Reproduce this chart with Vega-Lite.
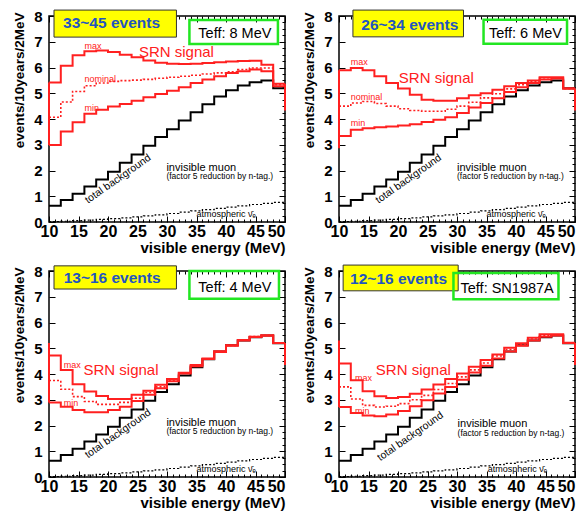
{
  "$schema": "https://vega.github.io/schema/vega-lite/v6.json",
  "padding": {"left": 11, "top": 8, "right": 0, "bottom": 0},
  "background": "white",
  "config": {
    "view": {"stroke": "black", "strokeWidth": 1.5},
    "font": "Liberation Sans",
    "header": {"labels": false, "labelFontSize": 0, "labelPadding": 0, "labelExpr": "''"},
    "headerFacet": {"labels": false, "labelFontSize": 0, "labelPadding": 0, "labelExpr": "''"}
  },
  "datasets": {
    "d": [
      {"k":"b","p":1,"x":10,"bg":0.63,"at":0.02,"mx":5.42,"nm":4.07,"mn":2.99},
      {"k":"b","p":1,"x":12,"bg":0.85,"at":0.03,"mx":6.07,"nm":4.66,"mn":3.51},
      {"k":"b","p":1,"x":14,"bg":1.1,"at":0.05,"mx":6.48,"nm":5.07,"mn":3.87},
      {"k":"b","p":1,"x":16,"bg":1.38,"at":0.07,"mx":6.63,"nm":5.29,"mn":4.2},
      {"k":"b","p":1,"x":18,"bg":1.65,"at":0.1,"mx":6.66,"nm":5.4,"mn":4.36},
      {"k":"b","p":1,"x":20,"bg":1.95,"at":0.13,"mx":6.6,"nm":5.46,"mn":4.49},
      {"k":"b","p":1,"x":22,"bg":2.3,"at":0.16,"mx":6.5,"nm":5.49,"mn":4.58},
      {"k":"b","p":1,"x":24,"bg":2.62,"at":0.2,"mx":6.4,"nm":5.51,"mn":4.71},
      {"k":"b","p":1,"x":26,"bg":2.96,"at":0.24,"mx":6.27,"nm":5.54,"mn":4.84},
      {"k":"b","p":1,"x":28,"bg":3.3,"at":0.28,"mx":6.18,"nm":5.58,"mn":4.97},
      {"k":"b","p":1,"x":30,"bg":3.6,"at":0.33,"mx":6.15,"nm":5.62,"mn":5.1},
      {"k":"b","p":1,"x":32,"bg":3.94,"at":0.38,"mx":6.14,"nm":5.66,"mn":5.23},
      {"k":"b","p":1,"x":34,"bg":4.26,"at":0.43,"mx":6.15,"nm":5.7,"mn":5.4},
      {"k":"b","p":1,"x":36,"bg":4.57,"at":0.48,"mx":6.17,"nm":5.75,"mn":5.53},
      {"k":"b","p":1,"x":38,"bg":4.87,"at":0.53,"mx":6.2,"nm":5.79,"mn":5.66},
      {"k":"b","p":1,"x":40,"bg":5.12,"at":0.58,"mx":6.23,"nm":5.83,"mn":5.79},
      {"k":"b","p":1,"x":42,"bg":5.3,"at":0.63,"mx":6.25,"nm":5.92,"mn":5.85},
      {"k":"b","p":1,"x":44,"bg":5.43,"at":0.68,"mx":6.26,"nm":5.98,"mn":5.92},
      {"k":"b","p":1,"x":46,"bg":5.5,"at":0.72,"mx":6.11,"nm":5.98,"mn":5.85},
      {"k":"b","p":1,"x":48,"bg":5.19,"at":0.76,"mx":5.37,"nm":5.33,"mn":5.27},
      {"k":"b","p":1,"x":50,"bg":5.19,"at":0.76,"mx":5.37,"nm":5.33,"mn":5.27},

      {"k":"b","p":2,"x":10,"bg":0.63,"at":0.02,"mx":5.89,"nm":4.5,"mn":3.34},
      {"k":"b","p":2,"x":12,"bg":0.85,"at":0.03,"mx":5.98,"nm":4.62,"mn":3.58},
      {"k":"b","p":2,"x":14,"bg":1.1,"at":0.05,"mx":5.89,"nm":4.68,"mn":3.64},
      {"k":"b","p":2,"x":16,"bg":1.38,"at":0.07,"mx":5.66,"nm":4.6,"mn":3.68},
      {"k":"b","p":2,"x":18,"bg":1.65,"at":0.1,"mx":5.4,"nm":4.5,"mn":3.71},
      {"k":"b","p":2,"x":20,"bg":1.95,"at":0.13,"mx":5.18,"nm":4.4,"mn":3.75},
      {"k":"b","p":2,"x":22,"bg":2.3,"at":0.16,"mx":4.94,"nm":4.33,"mn":3.8},
      {"k":"b","p":2,"x":24,"bg":2.62,"at":0.2,"mx":4.75,"nm":4.3,"mn":3.88},
      {"k":"b","p":2,"x":26,"bg":2.96,"at":0.24,"mx":4.71,"nm":4.3,"mn":3.97},
      {"k":"b","p":2,"x":28,"bg":3.3,"at":0.28,"mx":4.71,"nm":4.38,"mn":4.07},
      {"k":"b","p":2,"x":30,"bg":3.6,"at":0.33,"mx":4.81,"nm":4.5,"mn":4.23},
      {"k":"b","p":2,"x":32,"bg":3.94,"at":0.38,"mx":4.92,"nm":4.65,"mn":4.45},
      {"k":"b","p":2,"x":34,"bg":4.26,"at":0.43,"mx":5.0,"nm":4.82,"mn":4.62},
      {"k":"b","p":2,"x":36,"bg":4.57,"at":0.48,"mx":5.14,"nm":4.98,"mn":4.81},
      {"k":"b","p":2,"x":38,"bg":4.87,"at":0.53,"mx":5.27,"nm":5.17,"mn":5.05},
      {"k":"b","p":2,"x":40,"bg":5.12,"at":0.58,"mx":5.4,"nm":5.33,"mn":5.23},
      {"k":"b","p":2,"x":42,"bg":5.3,"at":0.63,"mx":5.5,"nm":5.47,"mn":5.4},
      {"k":"b","p":2,"x":44,"bg":5.43,"at":0.68,"mx":5.62,"nm":5.6,"mn":5.53},
      {"k":"b","p":2,"x":46,"bg":5.5,"at":0.72,"mx":5.62,"nm":5.6,"mn":5.57},
      {"k":"b","p":2,"x":48,"bg":5.19,"at":0.76,"mx":5.18,"nm":5.18,"mn":5.18},
      {"k":"b","p":2,"x":50,"bg":5.19,"at":0.76,"mx":5.18,"nm":5.18,"mn":5.18},

      {"k":"b","p":3,"x":10,"bg":0.63,"at":0.02,"mx":4.72,"nm":3.75,"mn":2.89},
      {"k":"b","p":3,"x":12,"bg":0.85,"at":0.03,"mx":4.16,"nm":3.41,"mn":2.73},
      {"k":"b","p":3,"x":14,"bg":1.1,"at":0.05,"mx":3.6,"nm":3.12,"mn":2.6},
      {"k":"b","p":3,"x":16,"bg":1.38,"at":0.07,"mx":3.32,"nm":2.93,"mn":2.51},
      {"k":"b","p":3,"x":18,"bg":1.65,"at":0.1,"mx":3.15,"nm":2.82,"mn":2.51},
      {"k":"b","p":3,"x":20,"bg":1.95,"at":0.13,"mx":3.03,"nm":2.82,"mn":2.6},
      {"k":"b","p":3,"x":22,"bg":2.3,"at":0.16,"mx":3.03,"nm":2.9,"mn":2.73},
      {"k":"b","p":3,"x":24,"bg":2.62,"at":0.2,"mx":3.19,"nm":3.06,"mn":2.95},
      {"k":"b","p":3,"x":26,"bg":2.96,"at":0.24,"mx":3.35,"nm":3.28,"mn":3.19},
      {"k":"b","p":3,"x":28,"bg":3.3,"at":0.28,"mx":3.58,"nm":3.5,"mn":3.45},
      {"k":"b","p":3,"x":30,"bg":3.6,"at":0.33,"mx":3.81,"nm":3.76,"mn":3.72},
      {"k":"b","p":3,"x":32,"bg":3.94,"at":0.38,"mx":4.05,"nm":4.04,"mn":4.02},
      {"k":"b","p":3,"x":34,"bg":4.26,"at":0.43,"mx":4.35,"nm":4.32,"mn":4.3},
      {"k":"b","p":3,"x":36,"bg":4.57,"at":0.48,"mx":4.6,"nm":4.59,"mn":4.58},
      {"k":"b","p":3,"x":38,"bg":4.87,"at":0.53,"mx":4.88,"nm":4.87,"mn":4.85},
      {"k":"b","p":3,"x":40,"bg":5.12,"at":0.58,"mx":5.12,"nm":5.11,"mn":5.1},
      {"k":"b","p":3,"x":42,"bg":5.3,"at":0.63,"mx":5.32,"nm":5.31,"mn":5.3},
      {"k":"b","p":3,"x":44,"bg":5.43,"at":0.68,"mx":5.45,"nm":5.45,"mn":5.44},
      {"k":"b","p":3,"x":46,"bg":5.5,"at":0.72,"mx":5.5,"nm":5.5,"mn":5.5},
      {"k":"b","p":3,"x":48,"bg":5.19,"at":0.76,"mx":5.2,"nm":5.2,"mn":5.2},
      {"k":"b","p":3,"x":50,"bg":5.19,"at":0.76,"mx":5.2,"nm":5.2,"mn":5.2},

      {"k":"b","p":4,"x":10,"bg":0.63,"at":0.02,"mx":4.41,"nm":3.5,"mn":2.72},
      {"k":"b","p":4,"x":12,"bg":0.85,"at":0.03,"mx":3.76,"nm":3.03,"mn":2.49},
      {"k":"b","p":4,"x":14,"bg":1.1,"at":0.05,"mx":3.33,"nm":2.78,"mn":2.39},
      {"k":"b","p":4,"x":16,"bg":1.38,"at":0.07,"mx":3.14,"nm":2.72,"mn":2.36},
      {"k":"b","p":4,"x":18,"bg":1.65,"at":0.1,"mx":3.07,"nm":2.75,"mn":2.43},
      {"k":"b","p":4,"x":20,"bg":1.95,"at":0.13,"mx":3.11,"nm":2.85,"mn":2.56},
      {"k":"b","p":4,"x":22,"bg":2.3,"at":0.16,"mx":3.23,"nm":3.0,"mn":2.75},
      {"k":"b","p":4,"x":24,"bg":2.62,"at":0.2,"mx":3.4,"nm":3.17,"mn":2.98},
      {"k":"b","p":4,"x":26,"bg":2.96,"at":0.24,"mx":3.59,"nm":3.4,"mn":3.24},
      {"k":"b","p":4,"x":28,"bg":3.3,"at":0.28,"mx":3.81,"nm":3.63,"mn":3.5},
      {"k":"b","p":4,"x":30,"bg":3.6,"at":0.33,"mx":4.02,"nm":3.89,"mn":3.78},
      {"k":"b","p":4,"x":32,"bg":3.94,"at":0.38,"mx":4.28,"nm":4.16,"mn":4.06},
      {"k":"b","p":4,"x":34,"bg":4.26,"at":0.43,"mx":4.54,"nm":4.43,"mn":4.32},
      {"k":"b","p":4,"x":36,"bg":4.57,"at":0.48,"mx":4.76,"nm":4.7,"mn":4.6},
      {"k":"b","p":4,"x":38,"bg":4.87,"at":0.53,"mx":5.02,"nm":4.95,"mn":4.87},
      {"k":"b","p":4,"x":40,"bg":5.12,"at":0.58,"mx":5.19,"nm":5.16,"mn":5.1},
      {"k":"b","p":4,"x":42,"bg":5.3,"at":0.63,"mx":5.41,"nm":5.36,"mn":5.3},
      {"k":"b","p":4,"x":44,"bg":5.43,"at":0.68,"mx":5.54,"nm":5.5,"mn":5.45},
      {"k":"b","p":4,"x":46,"bg":5.5,"at":0.72,"mx":5.54,"nm":5.52,"mn":5.5},
      {"k":"b","p":4,"x":48,"bg":5.19,"at":0.76,"mx":5.21,"nm":5.2,"mn":5.2},
      {"k":"b","p":4,"x":50,"bg":5.19,"at":0.76,"mx":5.21,"nm":5.2,"mn":5.2},

      {"k":"e","p":1,"x":10,"y":2.99,"y2":5.42},
      {"k":"e","p":1,"x":50,"y":4.33,"y2":5.37},
      {"k":"e","p":2,"x":10,"y":2.86,"y2":5.89},
      {"k":"e","p":2,"x":50,"y":4.33,"y2":5.18},
      {"k":"e","p":3,"x":10,"y":2.89,"y2":5.2},
      {"k":"e","p":3,"x":50,"y":4.35,"y2":5.2},
      {"k":"e","p":4,"x":10,"y":2.72,"y2":5.3},
      {"k":"e","p":4,"x":50,"y":4.35,"y2":5.21},

      {"k":"r","p":1,"c":"yb","x":10.85,"x2":31.6,"y":7.18,"y2":8.23},
      {"k":"r","p":1,"c":"gb","x":33.8,"x2":48.8,"y":6.91,"y2":7.84},
      {"k":"r","p":2,"c":"yb","x":12.36,"x2":31.1,"y":7.19,"y2":8.23},
      {"k":"r","p":2,"c":"gb","x":34.5,"x2":48.65,"y":6.92,"y2":7.85},
      {"k":"r","p":3,"c":"yb","x":10.85,"x2":31.6,"y":7.3,"y2":8.2},
      {"k":"r","p":3,"c":"gb","x":33.8,"x2":48.98,"y":6.92,"y2":8.0},
      {"k":"r","p":4,"c":"yb","x":10.7,"x2":30.2,"y":7.23,"y2":8.23},
      {"k":"r","p":4,"c":"gb","x":29.4,"x2":47.2,"y":6.9,"y2":7.92},

      {"k":"t","p":1,"c":"ev","x":20.6,"y":7.72,"t":"33~45 events"},
      {"k":"t","p":1,"c":"tf","x":41.5,"y":7.3,"t":"Teff: 8 MeV"},
      {"k":"t","p":1,"c":"srn","x":31.6,"y":6.6,"t":"SRN signal"},
      {"k":"t","p":1,"c":"lim","x":16.0,"y":6.82,"t":"max"},
      {"k":"t","p":1,"c":"lim","x":16.0,"y":5.54,"t":"nominal"},
      {"k":"t","p":1,"c":"lim","x":16.0,"y":4.43,"t":"min"},
      {"k":"t","p":1,"c":"tb","x":21.7,"y":1.67,"t":"total background"},
      {"k":"t","p":1,"c":"im","x":29.9,"y":2.11,"t":"invisible muon"},
      {"k":"t","p":1,"c":"fac","x":29.9,"y":1.77,"t":"(factor 5 reduction by n-tag.)"},
      {"k":"t","p":1,"c":"atm","x":35.0,"y":0.3,"t":"atmospheric \u03bd\u0304\u2091"},

      {"k":"t","p":2,"c":"ev","x":22.0,"y":7.65,"t":"26~34 events"},
      {"k":"t","p":2,"c":"tf","x":41.6,"y":7.3,"t":"Teff: 6 MeV"},
      {"k":"t","p":2,"c":"srn","x":26.5,"y":5.6,"t":"SRN signal"},
      {"k":"t","p":2,"c":"lim","x":12.0,"y":6.22,"t":"max"},
      {"k":"t","p":2,"c":"lim","x":12.0,"y":4.84,"t":"nominal"},
      {"k":"t","p":2,"c":"lim","x":12.0,"y":3.84,"t":"min"},
      {"k":"t","p":2,"c":"tb","x":21.8,"y":1.67,"t":"total background"},
      {"k":"t","p":2,"c":"im","x":30.0,"y":2.1,"t":"invisible muon"},
      {"k":"t","p":2,"c":"fac","x":30.0,"y":1.77,"t":"(factor 5 reduction by n-tag.)"},
      {"k":"t","p":2,"c":"atm","x":35.0,"y":0.3,"t":"atmospheric \u03bd\u0304\u2091"},

      {"k":"t","p":3,"c":"ev","x":20.7,"y":7.74,"t":"13~16 events"},
      {"k":"t","p":3,"c":"tf","x":41.5,"y":7.34,"t":"Teff: 4 MeV"},
      {"k":"t","p":3,"c":"srn","x":22.2,"y":4.16,"t":"SRN signal"},
      {"k":"t","p":3,"c":"lim","x":12.5,"y":4.36,"t":"max"},
      {"k":"t","p":3,"c":"lim","x":12.5,"y":2.89,"t":"min"},
      {"k":"t","p":3,"c":"tb","x":21.7,"y":1.68,"t":"total background"},
      {"k":"t","p":3,"c":"im","x":29.9,"y":2.11,"t":"invisible muon"},
      {"k":"t","p":3,"c":"fac","x":29.9,"y":1.77,"t":"(factor 5 reduction by n-tag.)"},
      {"k":"t","p":3,"c":"atm","x":35.0,"y":0.3,"t":"atmospheric \u03bd\u0304\u2091"},

      {"k":"t","p":4,"c":"ev","x":20.1,"y":7.67,"t":"12~16 events"},
      {"k":"t","p":4,"c":"tf","x":38.5,"y":7.32,"t":"Teff: SN1987A"},
      {"k":"t","p":4,"c":"srn","x":22.6,"y":4.14,"t":"SRN signal"},
      {"k":"t","p":4,"c":"lim","x":12.7,"y":3.86,"t":"max"},
      {"k":"t","p":4,"c":"lim","x":12.7,"y":2.58,"t":"min"},
      {"k":"t","p":4,"c":"tb","x":22.1,"y":1.57,"t":"total background"},
      {"k":"t","p":4,"c":"im","x":30.1,"y":2.05,"t":"invisible muon"},
      {"k":"t","p":4,"c":"fac","x":30.1,"y":1.72,"t":"(factor 5 reduction by n-tag.)"},
      {"k":"t","p":4,"c":"atm","x":35.2,"y":0.3,"t":"atmospheric \u03bd\u0304\u2091"}
    ]
  },
  "data": {"name": "d"},
  "facet": {"field": "p", "type": "ordinal", "title": null, "header": {"labels": false, "labelExpr": "''", "labelFontSize": 0, "labelPadding": 0, "title": null}},
  "columns": 2,
  "spacing": {"row": 49, "column": 54},
  "bounds": "flush",
  "resolve": {"axis": {"x": "independent", "y": "independent"}},
  "spec": {
    "width": 236,
    "height": 206,
    "resolve": {"axis": {"x": "independent", "y": "independent"}},
    "encoding": {
      "x": {"field": "x", "type": "quantitative", "scale": {"domain": [10, 50], "nice": false, "zero": false}, "axis": null},
      "y": {"field": "y", "type": "quantitative", "scale": {"domain": [0, 8], "nice": false, "zero": false}, "axis": null}
    },
    "layer": [
      {
        "transform": [{"filter": "datum.c === 'yb'"}],
        "mark": {"type": "rect", "fill": "#ffff00", "stroke": "#333333", "strokeWidth": 1, "clip": false},
        "encoding": {"x2": {"field": "x2"}, "y2": {"field": "y2"}}
      },
      {
        "transform": [{"filter": "datum.c === 'gb'"}],
        "mark": {"type": "rect", "fill": null, "fillOpacity": 0, "stroke": "#22e622", "strokeWidth": 2.5, "clip": false},
        "encoding": {"x2": {"field": "x2"}, "y2": {"field": "y2"}}
      },
      {
        "transform": [{"filter": "datum.k === 'b'"}],
        "mark": {"type": "line", "interpolate": "step-after", "color": "black", "strokeWidth": 1.2, "strokeDash": [2, 2]},
        "encoding": {
          "x": {"field": "x", "type": "quantitative", "scale": {"domain": [10, 50], "nice": false, "zero": false},
            "axis": {"orient": "top", "values": [10,11,12,13,14,15,16,17,18,19,20,21,22,23,24,25,26,27,28,29,30,31,32,33,34,35,36,37,38,39,40,41,42,43,44,45,46,47,48,49,50],
              "labels": false, "domain": false, "grid": false, "title": null, "tickColor": "black", "tickWidth": 1,
              "tickSize": {"condition": {"test": "datum.value % 5 === 0", "value": -6}, "value": -3}}},
          "y": {"field": "at", "type": "quantitative", "scale": {"domain": [0, 8], "nice": false, "zero": false},
            "axis": {"orient": "right", "values": [0,0.25,0.5,0.75,1,1.25,1.5,1.75,2,2.25,2.5,2.75,3,3.25,3.5,3.75,4,4.25,4.5,4.75,5,5.25,5.5,5.75,6,6.25,6.5,6.75,7,7.25,7.5,7.75,8],
              "labels": false, "domain": false, "grid": false, "title": null, "tickColor": "black", "tickWidth": 1,
              "tickSize": {"condition": {"test": "datum.value % 1 === 0", "value": -6}, "value": -3}}}
        }
      },
      {
        "transform": [{"filter": "datum.k === 'b'"}],
        "mark": {"type": "line", "interpolate": "step-after", "color": "black", "strokeWidth": 2},
        "encoding": {
          "x": {"field": "x", "type": "quantitative", "scale": {"domain": [10, 50], "nice": false, "zero": false},
            "axis": {"orient": "bottom", "values": [10,11,12,13,14,15,16,17,18,19,20,21,22,23,24,25,26,27,28,29,30,31,32,33,34,35,36,37,38,39,40,41,42,43,44,45,46,47,48,49,50],
              "format": "d", "labelExpr": "datum.value % 5 === 0 ? datum.label : ''",
              "labelAlign": {"condition": {"test": "datum.value === 50", "value": "right"}, "value": "center"},
              "tickSize": {"condition": {"test": "datum.value % 5 === 0", "value": -6}, "value": -3},
              "tickColor": "black", "tickWidth": 1, "domain": false, "grid": false,
              "labelFlush": false, "labelOverlap": false, "labelBound": false,
              "labelFont": "Liberation Sans", "labelFontWeight": "bold", "labelFontSize": 16, "labelColor": "black", "labelPadding": 7,
              "title": "visible energy (MeV)", "titleFont": "Liberation Sans", "titleFontSize": 15, "titleFontWeight": "bold",
              "titleColor": "black", "titleAnchor": "end", "titleAlign": "right", "titleBaseline": "alphabetic", "titleY": 30}},
          "y": {"field": "bg", "type": "quantitative", "scale": {"domain": [0, 8], "nice": false, "zero": false},
            "axis": {"orient": "left", "values": [0,0.25,0.5,0.75,1,1.25,1.5,1.75,2,2.25,2.5,2.75,3,3.25,3.5,3.75,4,4.25,4.5,4.75,5,5.25,5.5,5.75,6,6.25,6.5,6.75,7,7.25,7.5,7.75,8],
              "format": "d", "labelExpr": "datum.value % 1 === 0 ? datum.label : ''",
              "tickSize": {"condition": {"test": "datum.value % 1 === 0", "value": -6}, "value": -3},
              "tickColor": "black", "tickWidth": 1, "domain": false, "grid": false,
              "labelFlush": false, "labelOverlap": false, "labelBound": false,
              "labelFont": "Liberation Sans", "labelFontWeight": "bold", "labelFontSize": 15, "labelColor": "black", "labelPadding": 13,
              "title": "events/10years/2MeV", "titleFont": "Liberation Sans", "titleFontSize": 13.5, "titleFontWeight": "bold",
              "titleColor": "black", "titleAngle": 270, "titleAlign": "right", "titleBaseline": "middle", "titleX": -30, "titleY": -4}}
        }
      },
      {
        "transform": [{"filter": "datum.k === 'b'"}],
        "mark": {"type": "line", "interpolate": "step-after", "color": "#ff2020", "strokeWidth": 2},
        "encoding": {"y": {"field": "mn", "type": "quantitative", "scale": {"domain": [0, 8], "nice": false, "zero": false}, "axis": null}}
      },
      {
        "transform": [{"filter": "datum.k === 'b'"}],
        "mark": {"type": "line", "interpolate": "step-after", "color": "#ff2020", "strokeWidth": 1.6, "strokeDash": [2, 2]},
        "encoding": {"y": {"field": "nm", "type": "quantitative", "scale": {"domain": [0, 8], "nice": false, "zero": false}, "axis": null}}
      },
      {
        "transform": [{"filter": "datum.k === 'b'"}],
        "mark": {"type": "line", "interpolate": "step-after", "color": "#ff2020", "strokeWidth": 2},
        "encoding": {"y": {"field": "mx", "type": "quantitative", "scale": {"domain": [0, 8], "nice": false, "zero": false}, "axis": null}}
      },
      {
        "transform": [{"filter": "datum.k === 'e'"}],
        "mark": {"type": "rule", "color": "#ff2020", "strokeWidth": 2},
        "encoding": {"y2": {"field": "y2"}}
      },
      {
        "transform": [{"filter": "datum.c === 'ev'"}],
        "mark": {"type": "text", "font": "Liberation Sans", "fontWeight": "bold", "fontSize": 15.5, "color": "#1f55c0", "align": "center", "baseline": "middle"},
        "encoding": {"text": {"field": "t"}}
      },
      {
        "transform": [{"filter": "datum.c === 'tf'"}],
        "mark": {"type": "text", "font": "Liberation Sans", "fontSize": 14.5, "color": "black", "align": "center", "baseline": "middle"},
        "encoding": {"text": {"field": "t"}}
      },
      {
        "transform": [{"filter": "datum.c === 'srn'"}],
        "mark": {"type": "text", "font": "Liberation Sans", "fontSize": 15, "color": "#ff2020", "align": "center", "baseline": "middle"},
        "encoding": {"text": {"field": "t"}}
      },
      {
        "transform": [{"filter": "datum.c === 'lim'"}],
        "mark": {"type": "text", "font": "Liberation Sans", "fontSize": 9, "color": "#ff2020", "align": "left", "baseline": "middle"},
        "encoding": {"text": {"field": "t"}}
      },
      {
        "transform": [{"filter": "datum.c === 'tb'"}],
        "mark": {"type": "text", "font": "Liberation Sans", "fontSize": 10.5, "color": "black", "align": "center", "baseline": "middle", "angle": 325},
        "encoding": {"text": {"field": "t"}}
      },
      {
        "transform": [{"filter": "datum.c === 'im'"}],
        "mark": {"type": "text", "font": "Liberation Sans", "fontSize": 11, "color": "black", "align": "left", "baseline": "middle"},
        "encoding": {"text": {"field": "t"}}
      },
      {
        "transform": [{"filter": "datum.c === 'fac'"}],
        "mark": {"type": "text", "font": "Liberation Sans", "fontSize": 8.5, "color": "black", "align": "left", "baseline": "middle"},
        "encoding": {"text": {"field": "t"}}
      },
      {
        "transform": [{"filter": "datum.c === 'atm'"}],
        "mark": {"type": "text", "font": "Liberation Sans", "fontSize": 9, "color": "black", "align": "left", "baseline": "middle"},
        "encoding": {"text": {"field": "t"}}
      }
    ]
  }
}
